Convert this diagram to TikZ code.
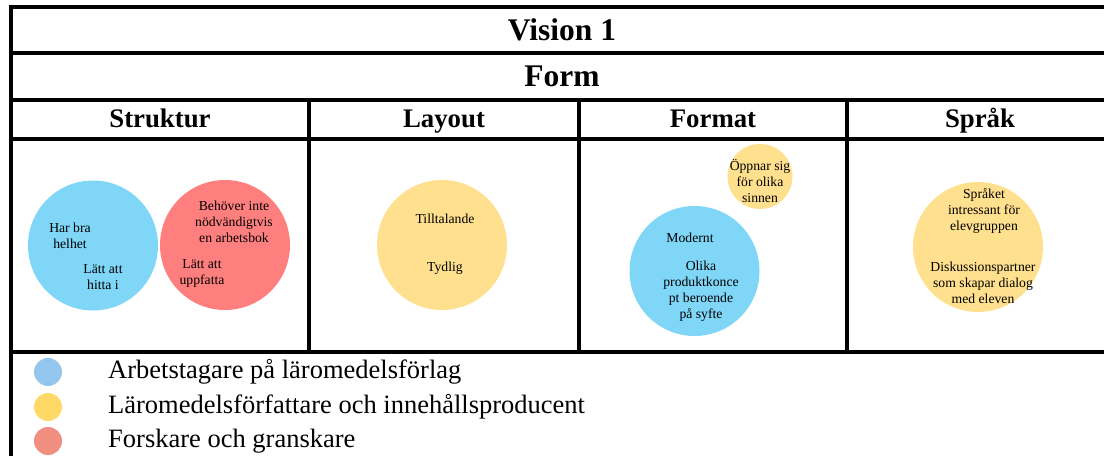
\documentclass[tikz,border=0pt]{standalone}
\usepackage{fontspec}
\setmainfont{Liberation Serif}
\definecolor{bubBlue}{RGB}{127,214,247}
\definecolor{bubRed}{RGB}{255,127,127}
\definecolor{bubYellow}{RGB}{255,224,143}
\definecolor{keyBlue}{RGB}{148,199,238}
\definecolor{keyYellow}{RGB}{255,217,102}
\definecolor{keyRed}{RGB}{240,143,128}
\begin{document}
\begin{tikzpicture}[x=1bp,y=-1bp,
  rule/.style={line width=3.8bp},
  titletext/.style={font=\fontsize{31.5bp}{34bp}\selectfont\bfseries, inner sep=0, anchor=base},
  headtext/.style={font=\fontsize{26.8bp}{30bp}\selectfont\bfseries, inner sep=0, anchor=base},
  bubble/.style={circle, draw=none, inner sep=0, minimum size=#1},
  bubtext/.style={font=\fontsize{13.7bp}{16bp}\selectfont, align=center, inner sep=0},
  keydot/.style={circle, draw=none, inner sep=0, minimum size=28bp},
  keytext/.style={font=\fontsize{26.5bp}{30bp}\selectfont, anchor=west, inner sep=0}]
\useasboundingbox (0,0) rectangle (1104,456);

% table grid
\coordinate (tl) at (11,5);
\coordinate (bl) at (11,456);
\draw[rule] (tl) -- (bl);
\foreach \yy in {7,53,100,139,352}
  \draw[rule] (9,\yy) -- (1104,\yy);
\foreach \xx in {309,579,847}
  \draw[rule] (\xx,100) -- (\xx,352);

% titles and column heads
\node[titletext] (vision) at (562,40.5) {Vision 1};
\node[titletext] (form) at (562,86.5) {Form};
\node[headtext] (hStruktur) at (160,128) {Struktur};
\node[headtext] (hLayout) at (444,128) {Layout};
\node[headtext] (hFormat) at (713,128) {Format};
\node[headtext] (hSprak) at (980,128) {Språk};

% Struktur
\node[bubble=130bp, fill=bubBlue] (sBlue) at (93,245.5) {};
\node[bubble=130bp, fill=bubRed] (sRed) at (225,245) {};
\node[bubtext] (s1) at (70,235.5) {Har bra\\helhet};
\node[bubtext] (s2) at (103,277) {Lätt att\\hitta i};
\node[bubtext] (s3) at (234,222) {Behöver inte\\nödvändigtvis\\en arbetsbok};
\node[bubtext] (s4) at (202,273.5) {Lätt att\\uppfatta};

% Layout
\node[bubble=130bp, fill=bubYellow] (lYellow) at (442,245) {};
\node[bubtext] (l1) at (445,219) {Tilltalande};
\node[bubtext] (l2) at (445,268) {Tydlig};

% Format
\node[bubble=65bp, fill=bubYellow] (fYellow) at (760,176.5) {};
\node[bubble=130bp, fill=bubBlue] (fBlue) at (694.5,271) {};
\node[bubtext] (f1) at (760,181) {Öppnar sig\\för olika\\sinnen};
\node[bubtext] (f2) at (690,238) {Modernt};
\node[bubtext] (f3) at (701,291.5) {Olika\\produktkonce\\pt beroende\\på syfte};

% Språk
\node[bubble=130bp, fill=bubYellow] (pYellow) at (978,247) {};
\node[bubtext] (p1) at (984,211.5) {Språket\\intressant för\\elevgruppen};
\node[bubtext] (p2) at (983,282.5) {Diskussionspartner\\som skapar dialog\\med eleven};

% legend
\node[keydot, fill=keyBlue] (k1) at (48,372) {};
\node[keydot, fill=keyYellow] (k2) at (48,407) {};
\node[keydot, fill=keyRed] (k3) at (48,441) {};
\node[keytext] (t1) at (108,372) {Arbetstagare på läromedelsförlag};
\node[keytext] (t2) at (108,407) {Läromedelsförfattare och innehållsproducent};
\node[keytext] (t3) at (108,441) {Forskare och granskare};
\end{tikzpicture}
\end{document}
